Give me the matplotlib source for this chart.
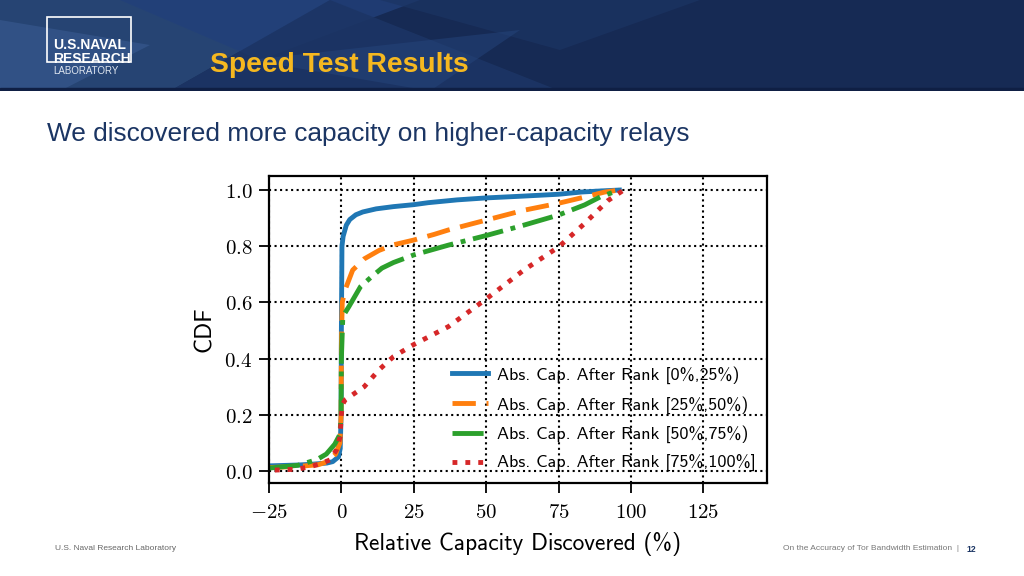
import numpy as np
import matplotlib
matplotlib.use("Agg")
import matplotlib.pyplot as plt
from matplotlib.patches import Polygon, Rectangle

plt.rcParams['mathtext.fontset'] = 'cm'

# CDF curves (x = relative capacity discovered in %)
labels = ["Abs. Cap. After Rank [0%,25%)",
          "Abs. Cap. After Rank [25%,50%)",
          "Abs. Cap. After Rank [50%,75%)",
          "Abs. Cap. After Rank [75%,100%]"]

blue_x = [-25, -15, -10, -5, -3, -1, -0.4, -0.1, 0, 0.2, 0.6, 1.7, 2.9, 5, 7.4, 12, 18, 25, 30, 40, 50, 62, 75, 83, 90, 96]
blue_y = [0.018, 0.021, 0.024, 0.028, 0.033, 0.05, 0.08, 0.2, 0.5, 0.8, 0.835, 0.875, 0.895, 0.912, 0.922, 0.933, 0.941, 0.948, 0.955, 0.965, 0.972, 0.978, 0.985, 0.993, 0.997, 1.0]

orange_x = [-25, -15, -8, -5, -2, -0.5, -0.1, 0, 0.3, 1.3, 3.9, 7.9, 13, 18, 25, 32, 37, 50, 63, 75, 84, 91, 96]
orange_y = [0.012, 0.016, 0.022, 0.032, 0.06, 0.1, 0.2, 0.45, 0.6, 0.645, 0.715, 0.755, 0.785, 0.805, 0.822, 0.842, 0.858, 0.893, 0.928, 0.953, 0.975, 0.993, 1.0]

green_x = [-25, -15, -8.5, -5.2, -2.3, -0.5, -0.1, 0, 0.5, 2.6, 6.6, 10.5, 14, 18, 25, 37, 50, 63, 75, 84, 89.5, 96]
green_y = [0.01, 0.02, 0.04, 0.06, 0.095, 0.13, 0.2, 0.4, 0.55, 0.585, 0.656, 0.692, 0.722, 0.742, 0.769, 0.804, 0.838, 0.875, 0.911, 0.947, 0.976, 1.0]

red_x = [-23, -15.4, -10.8, -7.4, -4, -1.7, -0.5, 0, 0.3, 1.3, 7.9, 13, 18, 25, 37, 50, 63, 75, 84, 92, 97.5]
red_y = [0.003, 0.006, 0.015, 0.025, 0.039, 0.075, 0.12, 0.2, 0.235, 0.253, 0.3, 0.36, 0.407, 0.45, 0.514, 0.612, 0.715, 0.797, 0.881, 0.962, 1.0]

xticks = [-25, 0, 25, 50, 75, 100, 125]
xtick_labels = [r'$-25$', r'$0$', r'$25$', r'$50$', r'$75$', r'$100$', r'$125$']
yticks = [0.0, 0.2, 0.4, 0.6, 0.8, 1.0]
ytick_labels = [r'$0.0$', r'$0.2$', r'$0.4$', r'$0.6$', r'$0.8$', r'$1.0$']

fig = plt.figure(figsize=(10.24, 5.76), dpi=100)
fig.patch.set_facecolor('white')

# header band
H = 91 / 576
hdr = fig.add_axes([0, 1 - H, 1, H])
hdr.set_xlim(0, 1024)
hdr.set_ylim(91, 0)
hdr.axis('off')
hdr.add_patch(Rectangle((0, 0), 1024, 91, color='#162a54'))
shapes = [
    ([(0, 0), (330, 0), (170, 91), (0, 91)], '#284777', 0.9),
    ([(0, 20), (150, 45), (60, 91), (0, 91)], '#34558a', 0.8),
    ([(120, 0), (420, 0), (260, 60)], '#22407a', 0.8),
    ([(170, 91), (330, 0), (560, 91)], '#1c3565', 0.9),
    ([(380, 0), (700, 0), (560, 50)], '#1b3463', 0.7),
    ([(250, 60), (520, 30), (430, 91)], '#25457c', 0.5),
]
for pts, col, a in shapes:
    hdr.add_patch(Polygon(pts, closed=True, color=col, alpha=a, lw=0))
hdr.add_patch(Rectangle((0, 88), 1024, 3, color='#0f1f44'))
hdr.add_patch(Rectangle((47, 17), 84, 45, fill=False, ec='white', lw=1.2))
fig.text(53 / 1024, 1 - 45 / 576, "U.S.NAVAL", color='white', fontsize=10,
         fontweight='bold', family='Liberation Sans', va='center', ha='left')
fig.text(53 / 1024, 1 - 59 / 576, "RESEARCH", color='white', fontsize=10,
         fontweight='bold', family='Liberation Sans', va='center', ha='left')
fig.text(53 / 1024, 1 - 71 / 576, "LABORATORY", color='#dfe6f0', fontsize=7,
         family='Liberation Sans', va='center', ha='left')
fig.text(210 / 1024, 1 - 65 / 576, "Speed Test Results", color='#f5b820', fontsize=20.3,
         fontweight='bold', family='Liberation Sans', va='center', ha='left')

fig.text(47 / 1024, 1 - 134 / 576, "We discovered more capacity on higher-capacity relays",
         color='#1b3563', fontsize=18.9, family='Liberation Sans', va='center', ha='left')

# footer
fig.text(55 / 1024, 1 - 549 / 576, "U.S. Naval Research Laboratory", color='#666666',
         fontsize=6, family='Liberation Sans', va='center', ha='left')
fig.text(959 / 1024, 1 - 549 / 576, "On the Accuracy of Tor Bandwidth Estimation  |", color='#777777',
         fontsize=6, family='Liberation Sans', va='center', ha='right')
fig.text(966 / 1024, 1 - 549 / 576, "12", color='#1b3563', fontsize=6.2, fontweight='bold',
         family='Liberation Sans', va='center', ha='left')

# main chart
ax = fig.add_axes([269 / 1024, 1 - 483 / 576, 498 / 1024, 307 / 576])
ax.plot(blue_x, blue_y, color='#1f77b4', lw=3.5, ls='-', label=labels[0])
ax.plot(orange_x, orange_y, color='#ff7f0e', lw=3.5, dashes=(4.8, 2.2), label=labels[1])
ax.plot(green_x, green_y, color='#2ca02c', lw=3.5, ls='-.', label=labels[2])
ax.plot(red_x, red_y, color='#d62728', lw=3.5, ls=':', label=labels[3])

ax.set_xlim(-25, 147)
ax.set_ylim(-0.043, 1.05)
ax.set_xticks(xticks)
ax.set_xticklabels(xtick_labels)
ax.set_yticks(yticks)
ax.set_yticklabels(ytick_labels)
ax.tick_params(labelsize=15, length=7, width=1.3)
ax.tick_params(axis='x', pad=7)
ax.tick_params(axis='y', pad=5)
ax.grid(True, color='black', ls=':', lw=1.5)
for s in ax.spines.values():
    s.set_linewidth(1.6)

ax.set_xlabel("Relative Capacity Discovered (%)", family='cmss10', fontsize=16.8, labelpad=7)
ax.set_ylabel("CDF", family='cmss10', fontsize=17, labelpad=6)

leg = ax.legend(loc='lower right', frameon=False, prop={'family': 'cmss10', 'size': 13},
                handlelength=2.0, handletextpad=0.5, labelspacing=0.66,
                borderaxespad=0.2, bbox_to_anchor=(1.0, 0.0))

fig.savefig("out.png", dpi=100)
